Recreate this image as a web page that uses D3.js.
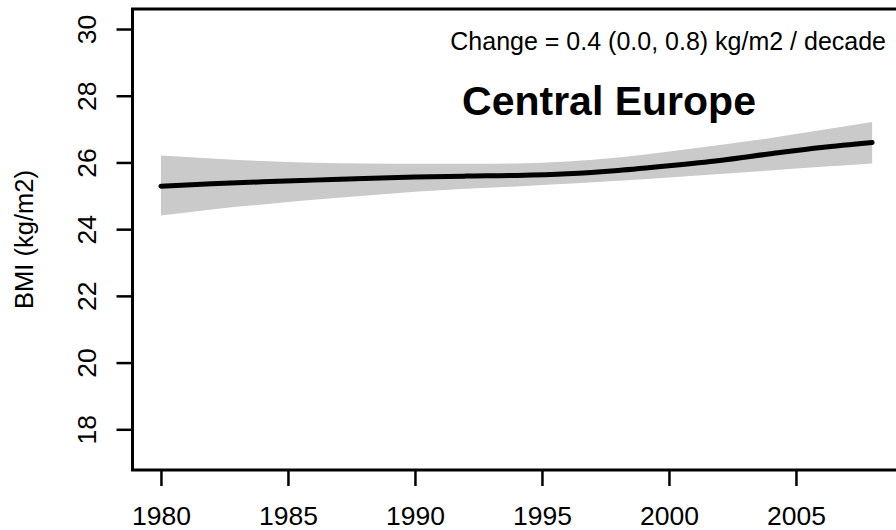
<!DOCTYPE html>
<html>
<head>
<meta charset="utf-8">
<script src="https://cdn.jsdelivr.net/npm/d3@7"></script>
<style>
  html, body { margin: 0; padding: 0; background: #fff; }
  svg { display: block; }
  text { font-family: "Liberation Sans", Arial, sans-serif; fill: #000; }
</style>
</head>
<body>
<svg id="chart" width="896" height="530"></svg>
<script>
// Fitted BMI trend with its uncertainty band
const years = [1980, 1982, 1984, 1986, 1988, 1990, 1992, 1994, 1996, 1998, 2000, 2002, 2004, 2006, 2008];
const bmiMean = [25.29, 25.36, 25.42, 25.47, 25.52, 25.56, 25.59, 25.61, 25.66, 25.76, 25.90, 26.06, 26.26, 26.45, 26.60];
const bmiUpper = [26.21, 26.12, 26.04, 25.99, 25.97, 25.96, 25.96, 25.97, 26.03, 26.15, 26.33, 26.52, 26.73, 26.97, 27.21];
const bmiLower = [24.41, 24.59, 24.74, 24.88, 25.00, 25.12, 25.21, 25.28, 25.36, 25.45, 25.55, 25.65, 25.76, 25.87, 25.97];

const xTicks = [1980, 1985, 1990, 1995, 2000, 2005];
const yTicks = [18, 20, 22, 24, 26, 28, 30];

const titleText = "Central Europe";
const changeText = "Change = 0.4 (0.0, 0.8) kg/m2 / decade";
const yLabel = "BMI (kg/m2)";

const svg = d3.select("#chart");

const plot = { left: 132.5, right: 900.6, top: 9, bottom: 470 };

const x = d3.scaleLinear().domain([1978.88, 2009.12]).range([plot.left, plot.right]);
const y = d3.scaleLinear().domain([16.78, 30.6]).range([plot.bottom, plot.top]);

const rows = years.map((yr, i) => ({ yr, mean: bmiMean[i], lo: bmiLower[i], hi: bmiUpper[i] }));

// Confidence band
const band = d3.area()
  .x(d => x(d.yr))
  .y0(d => y(d.lo))
  .y1(d => y(d.hi))
  .curve(d3.curveMonotoneX);

svg.append("path")
  .datum(rows)
  .attr("d", band)
  .attr("fill", "#cacaca")
  .attr("stroke", "none");

// Trend line
const line = d3.line()
  .x(d => x(d.yr))
  .y(d => y(d.mean))
  .curve(d3.curveMonotoneX);

svg.append("path")
  .datum(rows)
  .attr("d", line)
  .attr("fill", "none")
  .attr("stroke", "#000")
  .attr("stroke-width", 5)
  .attr("stroke-linecap", "round");

// Frame around the plotting region
svg.append("rect")
  .attr("x", plot.left)
  .attr("y", plot.top)
  .attr("width", plot.right - plot.left)
  .attr("height", plot.bottom - plot.top)
  .attr("fill", "none")
  .attr("stroke", "#000")
  .attr("stroke-width", 3);

// Bottom axis
const gx = svg.append("g")
  .attr("transform", `translate(0,${plot.bottom})`)
  .call(d3.axisBottom(x).tickValues(xTicks).tickFormat(d3.format("d")).tickSize(16).tickPadding(0));
gx.select(".domain").remove();
gx.selectAll(".tick line").attr("stroke", "#000").attr("stroke-width", 2.5);
gx.selectAll(".tick text")
  .attr("y", 55)
  .attr("dy", 0)
  .style("font-size", "26.5px")
  .style("font-family", "'Liberation Sans', Arial, sans-serif");

// Left axis with rotated labels
const gy = svg.append("g")
  .attr("transform", `translate(${plot.left},0)`)
  .call(d3.axisLeft(y).tickValues(yTicks).tickSize(16));
gy.select(".domain").remove();
gy.selectAll(".tick line").attr("stroke", "#000").attr("stroke-width", 2.5);
gy.selectAll(".tick text")
  .attr("x", 0)
  .attr("dy", 0)
  .attr("text-anchor", "middle")
  .attr("transform", "translate(-37,0) rotate(-90)")
  .style("font-size", "26.5px")
  .style("font-family", "'Liberation Sans', Arial, sans-serif");

// Axis title
svg.append("text")
  .attr("transform", `translate(33,${(plot.top + plot.bottom) / 2}) rotate(-90)`)
  .attr("text-anchor", "middle")
  .style("font-size", "25.5px")
  .text(yLabel);

// Annotation and region title
svg.append("text")
  .attr("x", 886)
  .attr("y", 50)
  .attr("text-anchor", "end")
  .style("font-size", "25px")
  .text(changeText);

svg.append("text")
  .attr("x", 609)
  .attr("y", 115)
  .attr("text-anchor", "middle")
  .style("font-size", "41px")
  .style("font-weight", "bold")
  .text(titleText);
</script>
</body>
</html>
